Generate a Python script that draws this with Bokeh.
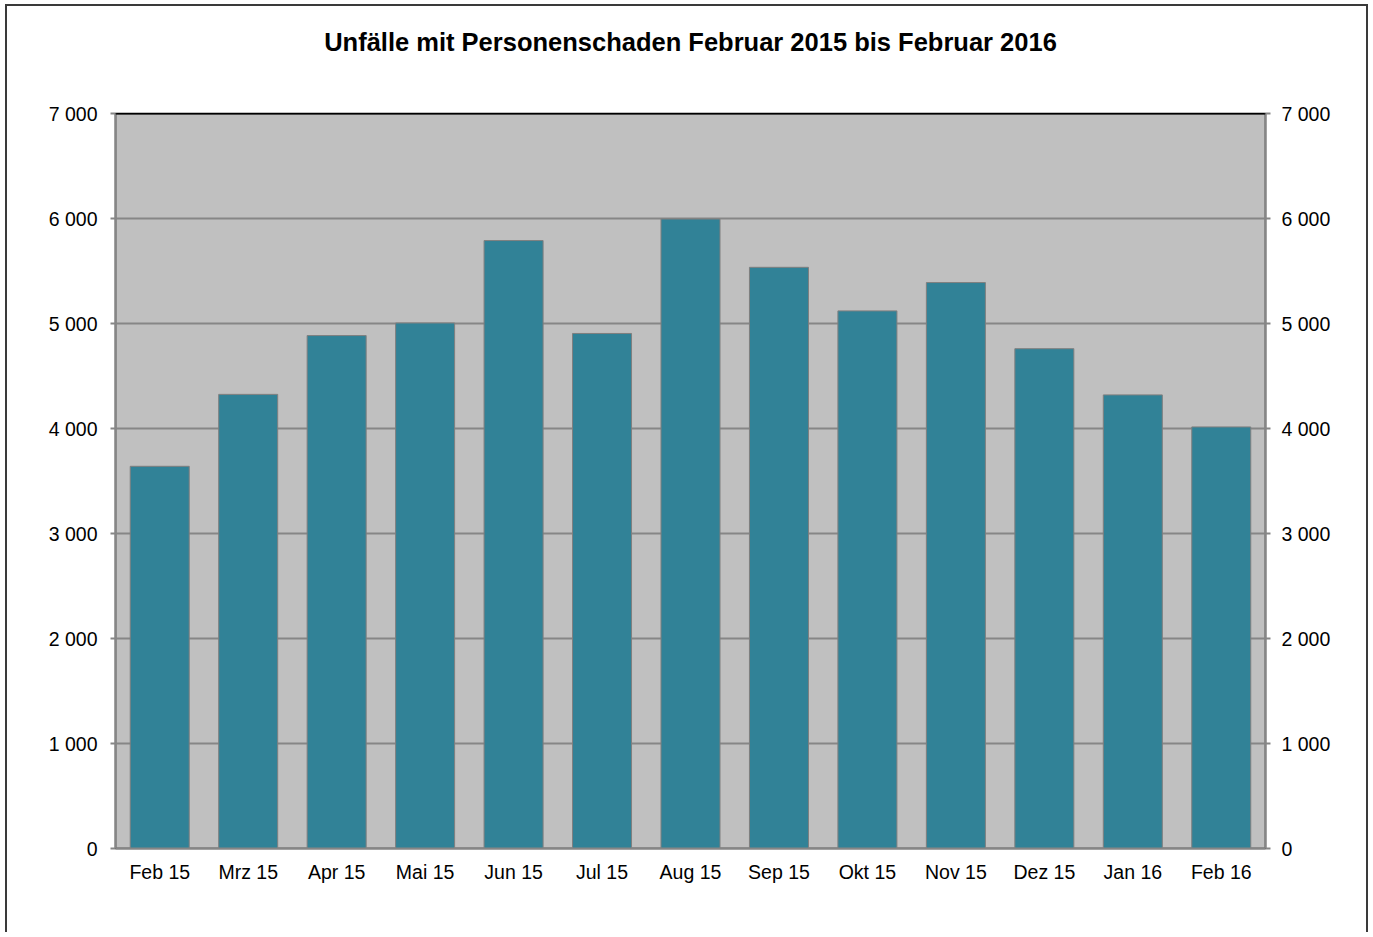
from bokeh.plotting import figure
from bokeh.models import LinearAxis, Range1d, FixedTicker, Span, Title
from bokeh.embed import file_html
from bokeh.resources import INLINE

months = ["Feb 15", "Mrz 15", "Apr 15", "Mai 15", "Jun 15", "Jul 15", "Aug 15",
          "Sep 15", "Okt 15", "Nov 15", "Dez 15", "Jan 16", "Feb 16"]
unfaelle = [3640, 4325, 4885, 5005, 5790, 4905, 5995, 5535, 5120, 5390, 4760, 4320, 4015]
y_ticks = [0, 1000, 2000, 3000, 4000, 5000, 6000, 7000]
y_tick_labels = ["0", "1 000", "2 000", "3 000", "4 000", "5 000", "6 000", "7 000"]
title_text = "Unfälle mit Personenschaden Februar 2015 bis Februar 2016"

FONT = "Liberation Sans"
GRID = "#868686"

p = figure(x_range=months, y_range=Range1d(0, 7000), width=1363, height=928,
           output_backend="svg", toolbar_location=None,
           min_border_left=108, min_border_right=105, min_border_top=107, min_border_bottom=86,
           styles={"margin-left": "5px", "margin-top": "4px",
                   "border-left": "2px solid #3a3a3a", "border-top": "2px solid #3a3a3a",
                   "border-right": "2px solid #3a3a3a"})
p.background_fill_color = "#C0C0C0"
p.border_fill_color = "white"
p.outline_line_color = "black"
p.outline_line_width = 1.5

p.vbar(x=months, top=unfaelle, width=0.667, fill_color="#318297",
       line_color="#7f7f7f", line_width=1)

overrides = {t: l for t, l in zip(y_ticks, y_tick_labels)}

for ax in p.yaxis:
    ax.ticker = FixedTicker(ticks=y_ticks)
    ax.major_label_overrides = overrides

right = LinearAxis(y_range_name="default", ticker=FixedTicker(ticks=y_ticks))
right.major_label_overrides = overrides
p.add_layout(right, "right")

for ax, so in [(p.yaxis[0], 13), (right, 11)]:
    ax.axis_line_color = GRID
    ax.axis_line_width = 2
    ax.major_tick_line_color = GRID
    ax.major_tick_line_width = 2
    ax.major_tick_out = 5
    ax.major_tick_in = 0
    ax.minor_tick_line_color = None
    ax.major_label_text_font = FONT
    ax.major_label_text_font_size = "19.5px"
    ax.major_label_text_color = "black"
    ax.major_label_standoff = so

xa = p.xaxis[0]
xa.axis_line_color = GRID
xa.axis_line_width = 2
xa.major_tick_line_color = None
xa.minor_tick_line_color = None
xa.major_label_text_font = FONT
xa.major_label_text_font_size = "19.5px"
xa.major_label_text_color = "black"
xa.major_label_standoff = 6

p.xgrid.grid_line_color = None
p.ygrid.ticker = FixedTicker(ticks=y_ticks)
p.ygrid.grid_line_color = GRID
p.ygrid.grid_line_width = 2

p.add_layout(Span(location=7000, dimension="width", line_color="black", line_width=2))

# blank spacer nearest the frame, then the real title above it
p.add_layout(Title(text=" ", text_font_size="10px", text_color="white", standoff=45), "above")
p.add_layout(Title(text=title_text, align="center", text_font=FONT, text_font_size="25.5px",
                   text_font_style="bold", text_color="black", standoff=0), "above")

open("out.html", "w").write(file_html(p, INLINE))
